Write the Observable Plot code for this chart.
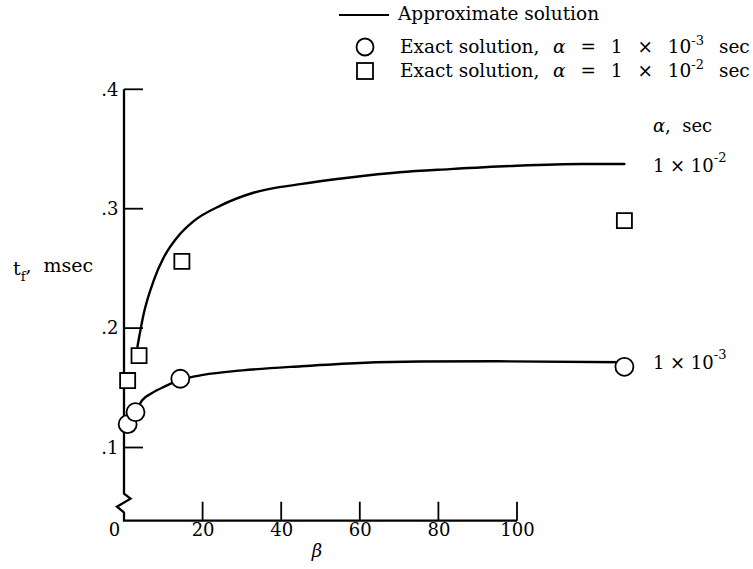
<!DOCTYPE html>
<html>
<head>
<meta charset="utf-8">
<script src="https://cdn.jsdelivr.net/npm/d3@7"></script>
<script src="https://cdn.jsdelivr.net/npm/@observablehq/plot@0.6"></script>
<style>
  body { margin: 0; background: #fff; }
  #wrap { position: relative; width: 753px; height: 569px; font-family: "DejaVu Serif", serif; color: #000; }
  #legend { position: absolute; left: 0; top: 0; width: 753px; height: 60px; z-index: 2; }
  #legend .txt { position: absolute; white-space: pre; font-size: 18.5px; line-height: 20px; }
  #legend .eq { word-spacing: 9px; }
  #legend sup { font-size: 13px; line-height: 0; position: relative; top: -1px; word-spacing: 0; }
  #legend .sym { position: absolute; }
  #chart { position: absolute; left: 0; top: 60px; z-index: 1; }
</style>
</head>
<body>
<div id="wrap">
  <div id="legend"></div>
  <div id="chart"></div>
</div>
<script>
// ---- data ----
const X_TICKS = [0, 20, 40, 60, 80, 100];
const Y_TICKS = [0.1, 0.2, 0.3, 0.4];
const Y_BOTTOM = 0.0387;           // level of the (broken) beta axis

// Exact solution, alpha = 1e-3 sec (circles)
const circleBeta = [0.8, 2.8, 14.2, 127.2];
const circleTf   = [0.120, 0.130, 0.158, 0.168];
// Exact solution, alpha = 1e-2 sec (squares)
const squareBeta = [0.8, 3.7, 14.6, 127.2];
const squareTf   = [0.1565, 0.1774, 0.2563, 0.2904];

// Approximate solution, alpha = 1e-2 sec
const hiBeta = [3.3, 4.9, 7.4, 10, 13.4, 17.6, 24.4, 33, 44.7, 57.4, 70, 82.8, 99.7, 116.5, 127.2];
const hiTf   = [0.185, 0.2126, 0.240, 0.2597, 0.2764, 0.290, 0.303, 0.314, 0.321, 0.3266, 0.331, 0.3336, 0.3364, 0.3378, 0.3378];
// Approximate solution, alpha = 1e-3 sec
const loBeta = [2.8, 4.5, 7, 10, 14.2, 20, 30, 45, 60, 75, 95, 127.2];
const loTf   = [0.130, 0.1400, 0.1460, 0.1512, 0.1570, 0.1612, 0.1650, 0.1685, 0.1712, 0.1724, 0.1726, 0.1718];

// legend entries
const LEGEND_LINE = "Approximate solution";
const LEGEND_ROWS = [
  {symbol: "circle", exp: "-3"},
  {symbol: "square", exp: "-2"}
];

const FONT = "DejaVu Serif";

const circles = circleBeta.map((b, i) => ({beta: b, tf: circleTf[i]}));
const squares = squareBeta.map((b, i) => ({beta: b, tf: squareTf[i]}));
const hiLine = hiBeta.map((b, i) => ({beta: b, tf: hiTf[i]}));
const loLine = loBeta.map((b, i) => ({beta: b, tf: loTf[i]}));

// ---- legend (HTML above the chart) ----
const legend = document.getElementById("legend");
function addText(html, left, top, cls) {
  const s = document.createElement("span");
  s.innerHTML = html;
  s.className = "txt" + (cls ? " " + cls : "");
  s.style.left = left + "px";
  s.style.top = top + "px";
  legend.appendChild(s);
}
{
  const ln = document.createElement("div");
  ln.className = "sym";
  ln.style.cssText = "left:339px;top:14px;width:50px;border-top:2.2px solid #000;";
  legend.appendChild(ln);
  addText(LEGEND_LINE, 398, 4);
  LEGEND_ROWS.forEach((r, i) => {
    const cy = 47 + i * 24;
    const svg = d3.create("svg").attr("class", "sym").attr("width", 22).attr("height", 22)
      .style("left", "354px").style("top", (cy - 11) + "px");
    if (r.symbol === "circle") svg.append("circle").attr("cx", 11).attr("cy", 11).attr("r", 8.5);
    else svg.append("rect").attr("x", 3).attr("y", 3).attr("width", 16).attr("height", 16);
    svg.selectAll("*").attr("fill", "#fff").attr("stroke", "#000").attr("stroke-width", 1.8);
    legend.appendChild(svg.node());
    const top = cy - 10;
    addText("Exact solution,", 400, top);
    addText(`<i>α</i> = 1 × 10<sup>${r.exp}</sup> sec`, 553, top, "eq");
  });
}

// axes frame with broken y axis and inward ticks
function axesMark(index, scales) {
  const {x, y} = scales;
  const g = d3.create("svg:g").attr("fill", "none").attr("stroke", "#000").attr("stroke-width", 2.3);
  const x0 = x(0), yTop = y(0.4), yBot = y(Y_BOTTOM);
  g.append("path").attr("stroke-linejoin", "miter").attr("d",
    `M${x0},${yTop}V${yBot - 27}L${x0 + 6.5},${yBot - 22}L${x0 - 7},${yBot - 14}L${x0 - 1},${yBot - 9}L${x0},${yBot - 8}V${yBot}H${x(100)}`);
  for (const t of Y_TICKS) g.append("path").attr("stroke-width", 1.8).attr("d", `M${x0},${y(t)}h19`);
  for (const t of X_TICKS.slice(1)) g.append("path").attr("stroke-width", 1.8).attr("d", `M${x(t)},${yBot}v-19`);
  return g.node();
}

// labels with sub/superscripts
function labelsMark(index, scales) {
  const {x, y} = scales;
  const g = d3.create("svg:g").attr("font-family", FONT).attr("font-size", 18)
    .attr("fill", "#000").attr("text-anchor", "start");
  const xe = x(hiBeta[hiBeta.length - 1]) + 29;
  const yHi = y(hiTf[hiTf.length - 1]);
  const yLo = y(loTf[loTf.length - 1]);
  const a = g.append("text").attr("x", xe).attr("y", yHi - 38).attr("dy", "0.35em").attr("xml:space", "preserve");
  a.append("tspan").attr("font-style", "italic").text("α");
  a.append("tspan").text(",  sec");
  for (const [yy, e] of [[yHi + 2, "-2"], [yLo + 1, "-3"]]) {
    const t = g.append("text").attr("x", xe).attr("y", yy).attr("dy", "0.35em");
    t.append("tspan").text("1 × 10");
    t.append("tspan").attr("font-size", 13).attr("dy", "-0.75em").text(e);
  }
  // y axis title
  const yt = g.append("text").attr("x", x(0) - 111).attr("y", y(0.25)).attr("dy", "0.35em")
    .attr("font-size", 19).attr("xml:space", "preserve");
  yt.append("tspan").text("t");
  yt.append("tspan").attr("font-size", 13).attr("dy", "0.45em").text("f");
  yt.append("tspan").attr("dy", "-0.45em").text(",  msec");
  return g.node();
}

const chart = Plot.plot({
  width: 753,
  height: 509,
  marginLeft: 124,
  marginRight: 236,
  marginTop: 29.3,
  marginBottom: 48.3,
  style: {fontFamily: FONT, background: "transparent", color: "#000"},
  x: {domain: [0, 100], axis: null},
  y: {domain: [Y_BOTTOM, 0.4], axis: null},
  marks: [
    axesMark,
    Plot.line(hiLine, {x: "beta", y: "tf", curve: "monotone-x", stroke: "#000", strokeWidth: 2.4}),
    Plot.line(loLine, {x: "beta", y: "tf", curve: "monotone-x", stroke: "#000", strokeWidth: 2.4}),
    Plot.dot(circles, {x: "beta", y: "tf", r: 9, symbol: "circle", fill: "#fff", stroke: "#000", strokeWidth: 1.8}),
    Plot.dot(squares, {x: "beta", y: "tf", r: 8.5, symbol: "square", fill: "#fff", stroke: "#000", strokeWidth: 1.8}),
    Plot.text(Y_TICKS, {y: d => d, frameAnchor: "left", dx: -6, textAnchor: "end", text: d => d.toFixed(1).slice(1), fontSize: 18, fill: "#000"}),
    Plot.text(X_TICKS.slice(1), {x: d => d, frameAnchor: "bottom", dy: 15, text: d => String(d), fontSize: 18, fill: "#000"}),
    Plot.text([0], {x: d => d, frameAnchor: "bottom", dy: 15, dx: -10, text: d => String(d), fontSize: 18, fill: "#000"}),
    Plot.text(["β"], {x: 49, frameAnchor: "bottom", dy: 36, text: d => d, fontSize: 18, fontStyle: "italic", fill: "#000"}),
    labelsMark
  ]
});
document.getElementById("chart").appendChild(chart);
</script>
</body>
</html>
